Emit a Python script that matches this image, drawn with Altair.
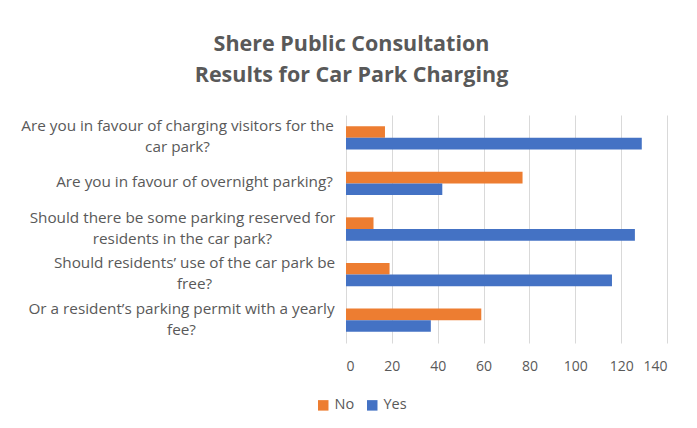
import json
import altair as alt
import pandas as pd

questions = [
    "Are you in favour of charging visitors for the car park?",
    "Are you in favour of overnight parking?",
    "Should there be some parking reserved for residents in the car park?",
    "Should residents\u2019 use of the car park be free?",
    "Or a resident\u2019s parking permit with a yearly fee?",
]
label_lines = [
    ["Are you in favour of charging visitors for the", "car park?"],
    ["Are you in favour of overnight parking?"],
    ["Should there be some parking reserved for", "residents in the car park?"],
    ["Should residents\u2019 use of the car park be", "free?"],
    ["Or a resident\u2019s parking permit with a yearly", "fee?"],
]
# half-widths of label blocks (styling, used to right-align centered label blocks)
label_pad = [169, 152, 164, 152, 165]

series = ["No", "Yes"]
no_values = [17, 77, 12, 19, 59]
yes_values = [129, 42, 126, 116, 37]
colors = ["#ED7D31", "#4472C4"]
x_ticks = [0, 20, 40, 60, 80, 100, 120, 140]

rows = []
for q, n, y in zip(questions, no_values, yes_values):
    rows.append({"question": q, "series": "No", "value": n})
    rows.append({"question": q, "series": "Yes", "value": y})
df = pd.DataFrame(rows)

label_expr = ""
pad_expr = ""
off_expr = ""
for q, lines, p in zip(questions, label_lines, label_pad):
    label_expr += f"datum.label == {json.dumps(q)} ? {json.dumps(lines)} : "
    pad_expr += f"datum.value == {json.dumps(q)} ? {p} : "
    off_expr += f"datum.value == {json.dumps(q)} ? {-10.5 * (len(lines) - 1) - 1} : "
label_expr += "datum.label"
pad_expr += "160"
off_expr += "0"

FONT = "Open Sans"
GREY = "#595959"

chart = alt.Chart(df).mark_bar().encode(
    y=alt.Y(
        "question:N",
        sort=questions,
        scale=alt.Scale(paddingInner=0.488, paddingOuter=0.244),
        axis=alt.Axis(
            title=None,
            domain=False,
            ticks=False,
            grid=False,
            labelExpr=label_expr,
            labelAlign="center",
            labelPadding=alt.ExprRef(pad_expr),
            labelOffset=alt.ExprRef(off_expr),
            labelFont=FONT,
            labelFontSize=15.3,
            labelColor=GREY,
            labelLineHeight=21,
            labelLimit=0,
        ),
    ),
    yOffset=alt.YOffset("series:N", sort=series, scale=alt.Scale(paddingInner=0, paddingOuter=0)),
    x=alt.X(
        "value:Q",
        scale=alt.Scale(domain=[0, 140], nice=False),
        axis=alt.Axis(
            title=None,
            values=x_ticks,
            domain=False,
            ticks=False,
            grid=True,
            gridColor="#d9d9d9",
            gridWidth=1,
            labelFont=FONT,
            labelFontSize=14,
            labelColor=GREY,
            labelPadding=16,
        ),
    ),
    color=alt.Color(
        "series:N",
        sort=series,
        scale=alt.Scale(domain=series, range=colors),
        legend=alt.Legend(
            title=None,
            orient="none",
            legendX=-30,
            legendY=283,
            direction="horizontal",
            symbolType="square",
            symbolSize=110,
            symbolStrokeWidth=0,
            labelFont=FONT,
            labelFontSize=14.5,
            labelColor=GREY,
            labelOffset=4,
            columnPadding=10,
            padding=0,
        ),
    ),
).properties(
    width=321,
    height=228,
    title=alt.TitleParams(
        text=["Shere Public Consultation", "Results for Car Park Charging"],
        font=FONT,
        fontSize=21.5,
        fontWeight="bold",
        color=GREY,
        lineHeight=31,
        anchor="middle",
        dx=-155,
        offset=29,
    ),
    autosize=alt.AutoSizeParams(type="none"),
    padding={"left": 338, "top": 107, "right": 22, "bottom": 70},
    background="white",
).configure_view(stroke=None)

chart.save("out.html", embed_options={"renderer": "svg", "actions": False})
